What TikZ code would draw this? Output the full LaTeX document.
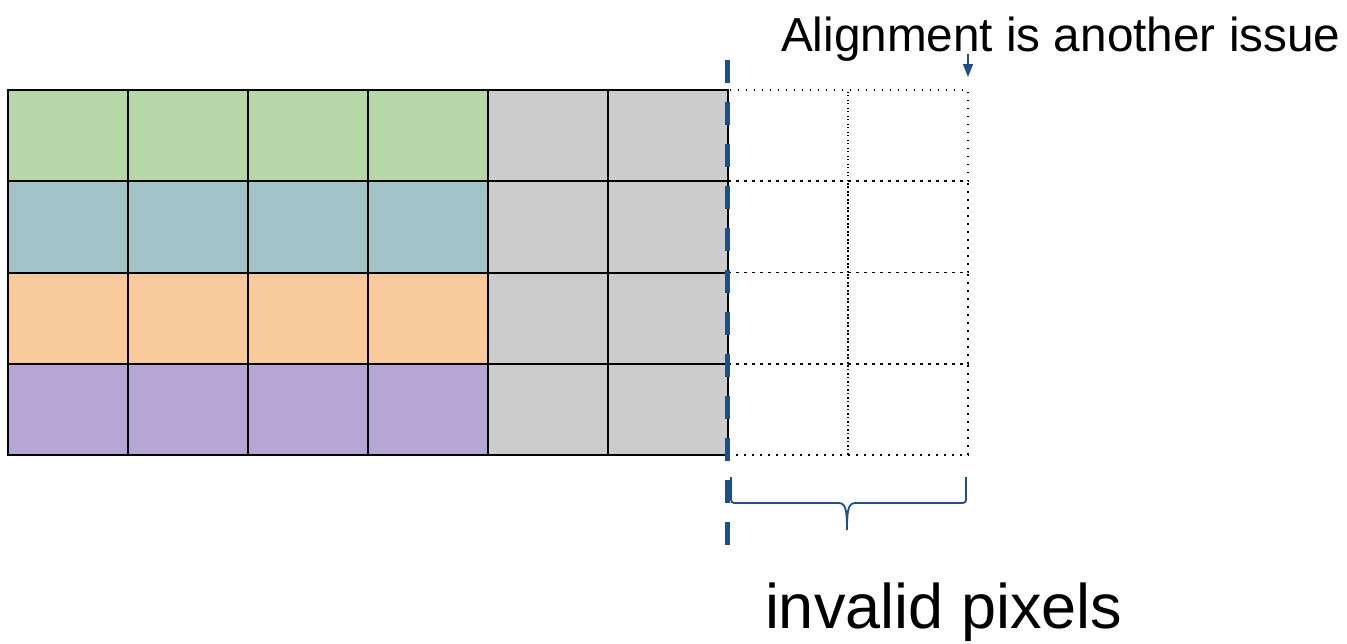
\documentclass[tikz,border=0pt]{standalone}
\usepackage{fontspec}
\setmainfont{Liberation Sans}
\usetikzlibrary{arrows.meta}
\definecolor{rowgreen}{HTML}{B6D7A8}
\definecolor{rowteal}{HTML}{A2C4C9}
\definecolor{roworange}{HTML}{F9CB9C}
\definecolor{rowpurple}{HTML}{B4A7D6}
\definecolor{padgray}{HTML}{CCCCCC}
\definecolor{markblue}{HTML}{1F4E82}
\begin{document}
\begin{tikzpicture}[x=1pt,y=-1pt,
  cell/.style={draw=black, line width=2pt, minimum width=120pt, minimum height=91.25pt,
    anchor=north west, inner sep=0pt, outer sep=0pt},
  ghostcell/.style={draw=black, line width=1.6pt, dash pattern=on 1.6pt off 6.4pt,
    minimum width=120pt, minimum height=91.25pt, anchor=north west, inner sep=0pt, outer sep=0pt},
  cutline/.style={draw=markblue, line width=5pt, dash pattern=on 23pt off 19pt},
  pointer/.style={draw=markblue, line width=1.5pt, -{Triangle[width=10pt,length=13pt]}},
  bracket/.style={draw=markblue, line width=1.8pt},
  caption/.style={inner sep=0pt, outer sep=0pt}]
\useasboundingbox (0,0) rectangle (1347,643);

% pixel rows: four valid pixels per row, then two padding pixels
\foreach \r/\col in {0/rowgreen,1/rowteal,2/roworange,3/rowpurple}{
  \foreach \c in {0,...,3}{
    \node[cell, fill=\col] (p-\r-\c) at ({8+120*\c},{90+91.25*\r}) {};
  }
  \foreach \c in {4,5}{
    \node[cell, fill=padgray] (p-\r-\c) at ({8+120*\c},{90+91.25*\r}) {};
  }
  % pixels beyond the row end
  \foreach \c in {6,7}{
    \node[ghostcell] (p-\r-\c) at ({8+120*\c},{90+91.25*\r}) {};
  }
}

% boundary of the valid region
\coordinate (cut-top) at (727,60);
\coordinate (cut-bottom) at (727,546);
\draw[cutline] (cut-top) -- (cut-bottom);

% alignment note and pointer
\node[caption, anchor=base west, font=\fontsize{47.7}{57}\selectfont] (note) at (781,51) {Alignment is another issue};
\coordinate (pointer-start) at (968,54);
\coordinate (pointer-end) at (968,77);
\draw[pointer] (pointer-start) -- (pointer-end);

% brace under the invalid pixels
\coordinate (brace-left) at (731,477);
\coordinate (brace-right) at (966,477);
\coordinate (brace-tip) at (847,530);
\draw[bracket] (brace-left) -- (731,496) .. controls (731,503) .. (738,503)
  -- (838,503) .. controls (845,503) and (847,507) .. (brace-tip)
  .. controls (847,507) and (849,503) .. (856,503)
  -- (959,503) .. controls (966,503) .. (966,496) -- (brace-right);

\node[caption, anchor=base west, font=\fontsize{63}{75}\selectfont] (label) at (765,628) {invalid pixels};
\end{tikzpicture}
\end{document}
